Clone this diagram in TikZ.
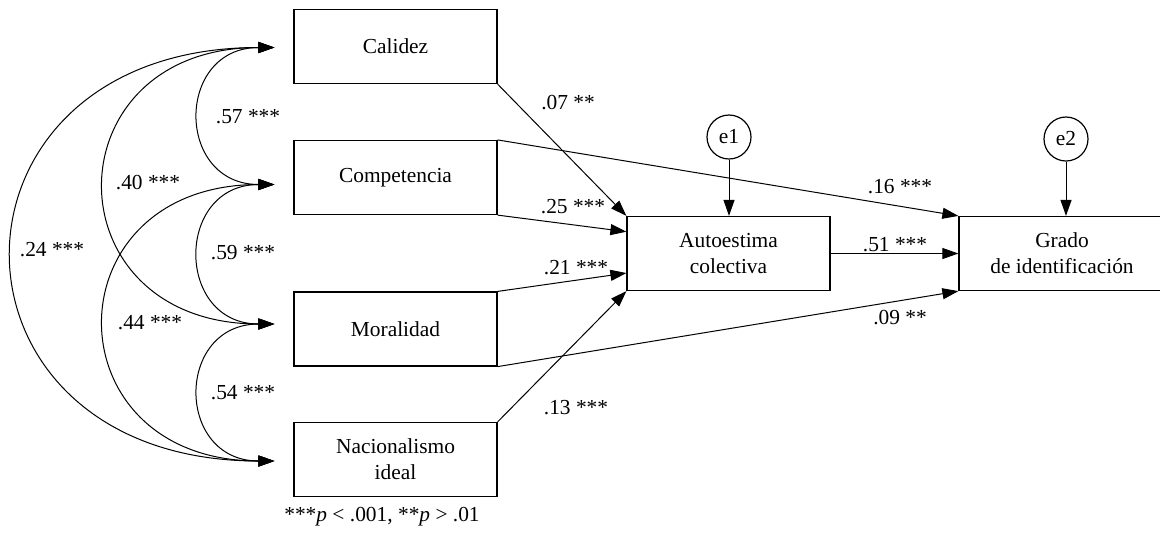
\documentclass[tikz,border=0pt]{standalone}
\usepackage{fontspec}
\setmainfont{Liberation Serif}
\usetikzlibrary{arrows.meta,calc}

\begin{document}
\begin{tikzpicture}[x=0.5pt,y=-0.5pt,
  font=\fontsize{10.7}{13}\selectfont,
  var/.style={draw,line width=0.6pt,minimum width=101.5pt,minimum height=37pt,align=center,inner sep=0pt},
  err/.style={draw,circle,line width=0.6pt,minimum size=22pt,inner sep=0pt},
  reg/.style={line width=0.5pt,-{Triangle[length=8pt,width=5.5pt]}},
  cov/.style={line width=0.5pt,{Triangle[length=8pt,width=5.5pt]}-{Triangle[length=8pt,width=5.5pt]}}]
\useasboundingbox (0,0) rectangle (1160,543);

% variables
\node[var] (cal) at (395.5,46.5) {Calidez};
\node[var] (comp) at (395.5,177.5) {Competencia};
\node[var] (mor) at (395.5,329) {Moralidad};
\node[var] (nac) at (395.5,459.5) {Nacionalismo\\ideal};
\node[var] (auto) at (728.5,253.5) {Autoestima\\colectiva};
\node[var,minimum width=103pt] (grado) at (1062,253.5) {Grado\\de identificación};
\node[err] (e1) at (729,137) {e1};
\node[err] (e2) at (1066,139) {e2};

% covarianzas
\coordinate (calL) at ($(cal.west)+(-19,1)$);
\coordinate (compL) at ($(comp.west)+(-19,7)$);
\coordinate (morL) at ($(mor.west)+(-19,-5)$);
\coordinate (nacL) at ($(nac.west)+(-19,1.5)$);
\draw[cov] (calL) to[out=180,in=180,looseness=1.86] (compL);
\draw[cov] (calL) to[out=180,in=180,looseness=2.09] (morL);
\draw[cov] (calL) to[out=180,in=180,looseness=2.16] (nacL);
\draw[cov] (compL) to[out=180,in=180,looseness=1.83] (morL);
\draw[cov] (compL) to[out=180,in=180,looseness=2.09] (nacL);
\draw[cov] (morL) to[out=180,in=180,looseness=1.86] (nacL);
\node (c57) at (248,117) {.57 ***};
\node (c40) at (148,183) {.40 ***};
\node (c24) at (52,250) {.24 ***};
\node (c59) at (243,253) {.59 ***};
\node (c44) at (150,323) {.44 ***};
\node (c54) at (243,393) {.54 ***};

% regresiones
\draw[reg] (cal.south east) -- (auto.north west);
\draw[reg] (comp.south east) -- ($(auto.north west)!0.21!(auto.south west)$);
\draw[reg] (mor.north east) -- ($(auto.north west)!0.76!(auto.south west)$);
\draw[reg] (nac.north east) -- (auto.south west);
\draw[reg] (comp.north east) -- (grado.north west);
\draw[reg] (mor.south east) -- (grado.south west);
\draw[reg] (auto.east) -- (grado.west);
\draw[reg] (e1) -- (e1 |- auto.north);
\draw[reg] (e2) -- (e2 |- grado.north);
\node (b07) at (568,103) {.07 **};
\node (b25) at (573,207) {.25 ***};
\node (b21) at (576,268) {.21 ***};
\node (b13) at (576,408) {.13 ***};
\node (b16) at (900,187) {.16 ***};
\node (b51) at (895,245) {.51 ***};
\node (b09) at (900,318) {.09 **};

\node (nota) at (382,517) {***\textit{p} < .001, **\textit{p} > .01};
\end{tikzpicture}
\end{document}
